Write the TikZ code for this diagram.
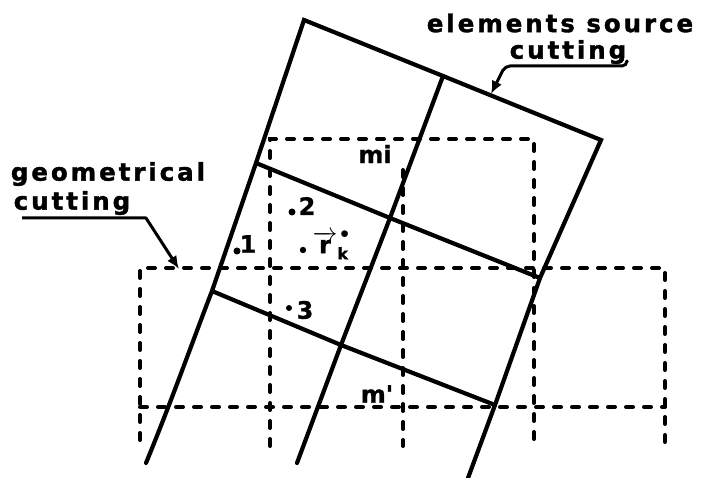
\documentclass[tikz,border=0pt]{standalone}
\usepackage{fontspec}
\setmainfont{DejaVu Sans}
\newfontfamily\wideb[LetterSpace=12,FakeBold=1.5]{DejaVu Sans Bold}
\newfontfamily\labb[FakeBold=1]{DejaVu Sans Bold}
\usetikzlibrary{arrows.meta}
\tikzset{
 solidline/.style={line width=4.2pt,line cap=round,line join=miter,black},
 dashline/.style={line width=4pt,line cap=round,dash pattern=on 7pt off 11pt,black},
 leader/.style={line width=3pt,black,line join=round},
 caption/.style={font=\fontsize{24.5}{24.5}\selectfont\wideb,inner sep=0pt,anchor=center},
 numlabel/.style={font=\fontsize{24}{24}\selectfont\labb,inner sep=0pt,anchor=center},
 pointtip/.style={-{Latex[length=13pt,width=11pt]}}
}
\begin{document}
\begin{tikzpicture}[x=1pt,y=-1pt]
\useasboundingbox (0,0) rectangle (702,478);
% named points of the element grid
\coordinate (tl) at (304,20);
\coordinate (tm) at (443,76);
\coordinate (tr) at (601,140);
\coordinate (a1) at (256,163);
\coordinate (a2) at (390,218);
\coordinate (a3) at (540,278);
\coordinate (b1) at (212,291);
\coordinate (b2) at (341,345);
\coordinate (b3) at (495,405);
\coordinate (e1) at (146,463);
\coordinate (e2) at (297,463);
\coordinate (e3) at (468,478);
% geometrical cutting (dashed)
\coordinate (g1) at (140,268);
\coordinate (g2) at (665,268);
\coordinate (g3) at (140,407);
\coordinate (g4) at (665,407);
\coordinate (g1e) at (140,440);
\coordinate (g2e) at (665,452);
\coordinate (u1) at (270,139);
\coordinate (u2) at (534,139);
\coordinate (u1e) at (270,446);
\coordinate (u2e) at (534,450);
\coordinate (v1) at (403,170);
\coordinate (v1e) at (403,446);
\draw[dashline] (g1e) -- (g1) -- (g2) -- (g2e);
\draw[dashline] (g3) -- (g4);
\draw[dashline] (u1e) -- (u1) -- (u2) -- (u2e);
\draw[dashline] (v1) -- (v1e);
% elements source cutting (solid)
\draw[solidline] (e1) .. controls (170,405) and (195,335) .. (b1) -- (a1) -- (tl) -- (tm) -- (tr) -- (a3) -- (b3) -- (e3);
\draw[solidline] (tm) -- (a2) -- (b2) -- (e2);
\draw[solidline] (a1) -- (a2) -- (a3);
\draw[solidline] (b1) -- (b2) -- (b3);
% captions
\node[caption] (src) at (560,23) {elements source};
\node[caption] (srcb) at (568,52) {cutting};
\node[caption] (geo) at (108,174) {geometrical};
\node[caption] (geob) at (72,203) {cutting};
\coordinate (s1) at (627,62);
\coordinate (s1b) at (627,66);
\coordinate (s2) at (505,66);
\coordinate (s3) at (491,94);
\draw[leader,pointtip,rounded corners=5pt] (s1) -- (s1b) -- (s2) -- (s3);
\coordinate (h0) at (22,218);
\coordinate (h1) at (146,218);
\coordinate (h2) at (179,269);
\draw[leader,pointtip] (h0) -- (h1) -- (h2);
% labels
\node[numlabel] (n1) at (248,244) {1};
\node[numlabel] (n2) at (307,206) {2};
\node[numlabel] (n3) at (305,310) {3};
\fill (237,251) circle (3.5pt) (292,212) circle (3.5pt) (289,308) circle (3pt) (303,250) circle (3.2pt);
\node[numlabel] (rk) at (331,245) {$\overrightarrow{\hbox{\labb r}}^{\,\bullet}_{\hbox{\fontsize{16}{16}\selectfont\labb k}}$};
\node[numlabel] (mi) at (375,154) {mi};
\node[numlabel] (mp) at (377,394) {m'};
\end{tikzpicture}
\end{document}
